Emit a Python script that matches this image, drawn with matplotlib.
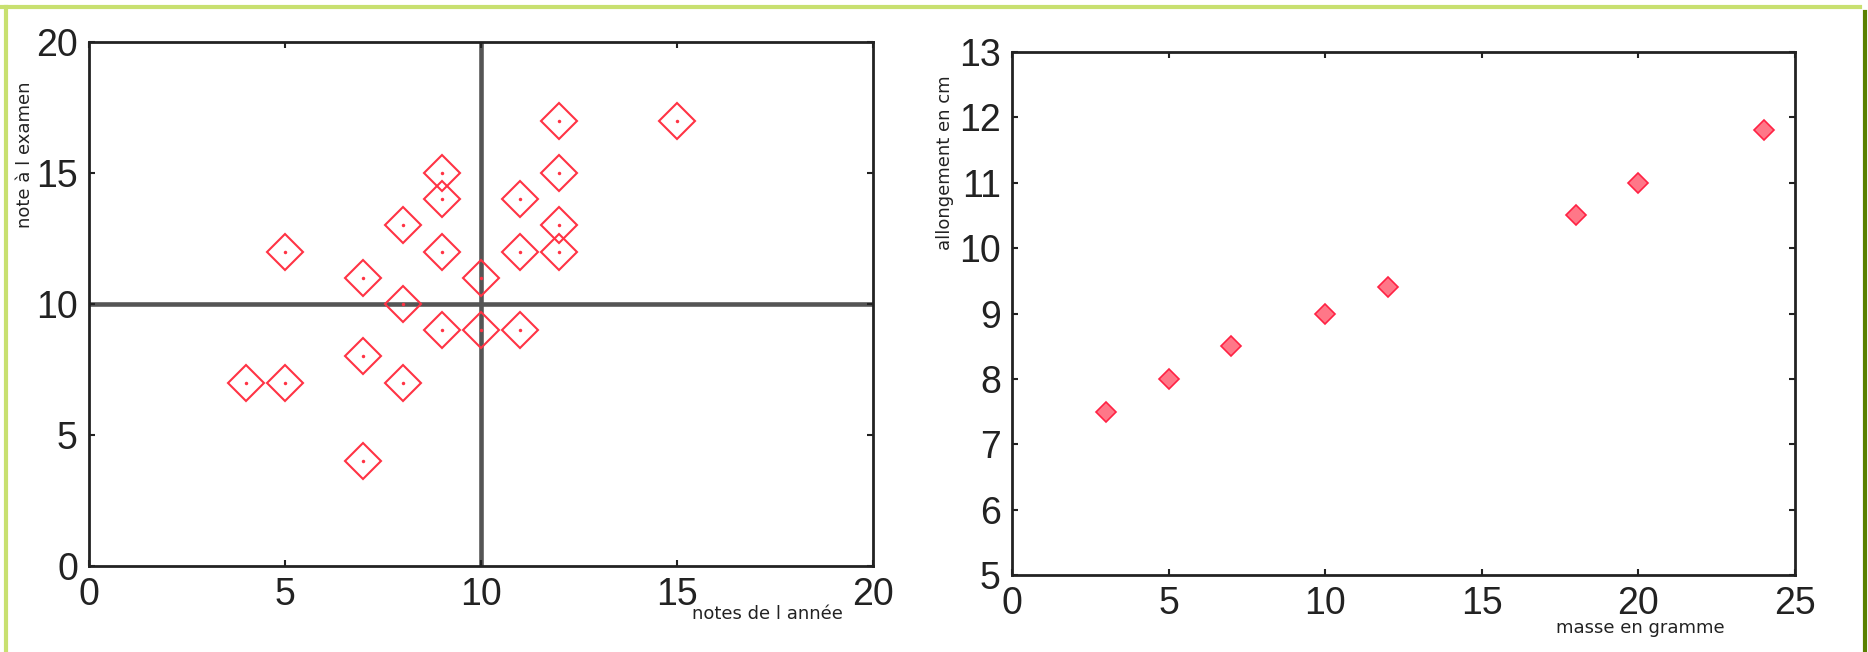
import matplotlib
matplotlib.use('Agg')
import matplotlib.pyplot as plt
from matplotlib.lines import Line2D

# LEFT CHART: NOTES OF THE YEAR VS EXAM NOTES
annee = [4, 5, 5, 7, 7, 7, 8, 8, 8, 9, 9, 9, 9, 10, 10, 11, 11, 11, 12, 12, 12, 12, 15]
examen = [7, 7, 12, 4, 8, 11, 7, 10, 13, 9, 12, 14, 15, 9, 11, 9, 12, 14, 12, 13, 15, 17, 17]

# RIGHT CHART: MASS VS ELONGATION
masse = [3, 5, 7, 10, 12, 18, 20, 24]
allongement = [7.5, 8, 8.5, 9, 9.4, 10.5, 11, 11.8]

W, H = 1868, 652
fig = plt.figure(figsize=(W/100, H/100), dpi=100)
fig.patch.set_facecolor('white')

tickfont = ['Liberation Sans Narrow', 'Liberation Sans', 'DejaVu Sans']

def style(ax):
    for s in ax.spines.values():
        s.set_linewidth(2)
        s.set_color('#222222')
    ax.tick_params(direction='in', top=True, right=True, length=4, width=1.5,
                   labelsize=27, pad=8, colors='#222222')
    for lab in ax.get_xticklabels() + ax.get_yticklabels():
        lab.set_family(tickfont)

# LEFT AXES
ax1 = fig.add_axes([89/W, (H-566)/H, 784/W, 524/H])
ax1.axvline(10, color='#555555', lw=3.3, zorder=1)
ax1.axhline(10, color='#555555', lw=3.3, zorder=1)
ax1.plot(annee, examen, 'D', ms=18, mfc='none', mec='#ff3344', mew=1.5, zorder=3)
ax1.plot(annee, examen, 'o', ms=2.5, mfc='#ff3344', mec='none', zorder=3)
ax1.set_xlim(0, 20)
ax1.set_ylim(0, 20)
ax1.set_xticks([0, 5, 10, 15, 20])
ax1.set_yticks([0, 5, 10, 15, 20])
style(ax1)

# RIGHT AXES
ax2 = fig.add_axes([1012/W, (H-575)/H, 783/W, 523/H])
ax2.plot(masse, allongement, 'D', ms=10, mfc='#ff7788', mec='#ff2244', mew=1.2, zorder=3)
ax2.set_xlim(0, 25)
ax2.set_ylim(5, 13)
ax2.set_xticks([0, 5, 10, 15, 20, 25])
ax2.set_yticks(range(5, 14))
style(ax2)

# AXIS LABELS (SMALL, PLACED LIKE THE ORIGINAL)
fig.text(25/W, 1-155/H, "note à l examen", rotation=90, fontsize=13,
         ha='center', va='center', color='#222222')
fig.text(767/W, 1-614/H, "notes de l année", fontsize=13,
         ha='center', va='center', color='#222222')
fig.text(945/W, 1-163/H, "allongement en cm", rotation=90, fontsize=13,
         ha='center', va='center', color='#222222')
fig.text(1640/W, 1-628/H, "masse en gramme", fontsize=13,
         ha='center', va='center', color='#222222')

# GREEN FRAME AROUND THE PICTURE
fig.add_artist(Line2D([0, 1860/W], [1-7/H, 1-7/H], transform=fig.transFigure,
                      color='#c8e070', lw=3))
fig.add_artist(Line2D([6/W, 6/W], [0, 1-7/H], transform=fig.transFigure,
                      color='#c8e070', lw=3))
fig.add_artist(Line2D([1865/W, 1865/W], [0, 1-12/H], transform=fig.transFigure,
                      color='#5a8000', lw=3))

plt.savefig('out.png', dpi=100)
